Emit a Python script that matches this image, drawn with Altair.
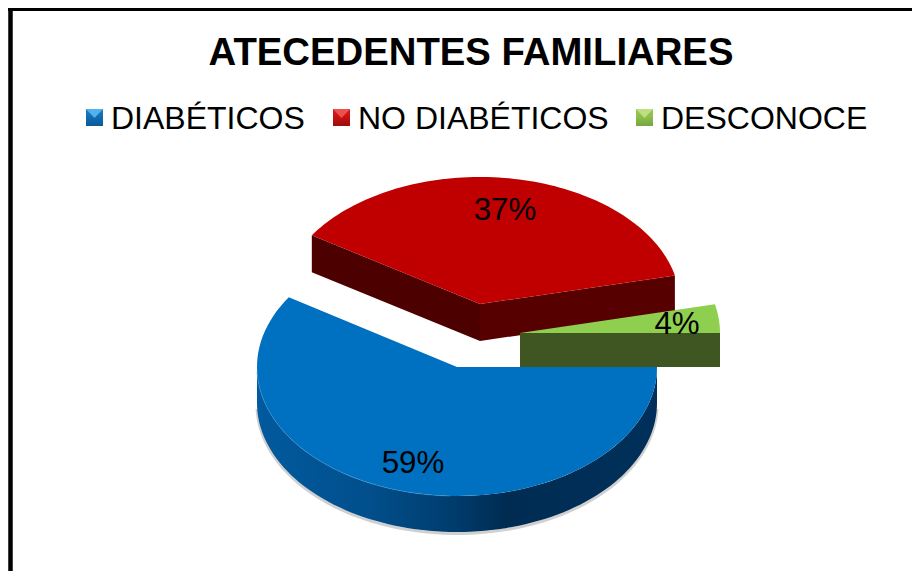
import math
import altair as alt
import pandas as pd

TITLE = "ATECEDENTES FAMILIARES"
CATEGORIES = ["DIABÉTICOS", "NO DIABÉTICOS", "DESCONOCE"]
PERCENTS = [59.1, 37.3, 3.6]
PERCENT_LABELS = ["59%", "37%", "4%"]

TOP_COLORS = ["#0070c0", "#c00000", "#8fcf50"]
WALL_COLORS = ["#003058", "#4d0000", "#3f5623"]

# page-pixel layout of the drawing
RX = 200
RYS = [129, 127, 128]
CENTERS = [(457, 367), (480, 304), (520, 333)]
DEPTHS = [36, 37, 34]
START_ANGLE = 90.0  # degrees clockwise from the top


def pt(k, ang, dy=0):
    r = math.radians(ang)
    c = CENTERS[k]
    return (c[0] + RX * math.sin(r), c[1] - RYS[k] * math.cos(r) + dy)


def arc(k, a0, a1, dy=0, n=90):
    return [pt(k, a0 + (a1 - a0) * i / n, dy) for i in range(n + 1)]


def frame(points, close=True):
    pts = list(points) + ([points[0]] if close else [])
    return pd.DataFrame({"x": [p[0] for p in pts], "y": [p[1] for p in pts], "i": range(len(pts))})


X = alt.X("x:Q", axis=None, scale=alt.Scale(domain=[8, 912], range=[0, 904]))
Y = alt.Y("y:Q", axis=None, scale=alt.Scale(domain=[8, 571], range=[0, 563]))


def poly(points, fill):
    return (
        alt.Chart(frame(points))
        .mark_line(fill=fill, stroke=None, strokeWidth=0, interpolate="linear")
        .encode(x=X, y=Y, order="i:Q")
    )


def curve(points, color, width, opacity):
    return (
        alt.Chart(frame(points, close=False))
        .mark_line(color=color, strokeWidth=width, opacity=opacity, interpolate="linear")
        .encode(x=X, y=Y, order="i:Q")
    )


angles = []
a = START_ANGLE
for p in PERCENTS:
    angles.append((a, a + p * 3.6))
    a += p * 3.6

layers = []

# red slice
k, (a0, a1), d = 1, angles[1], DEPTHS[1]
c = CENTERS[k]
layers.append(poly([pt(k, a0), c, (c[0], c[1] + d), pt(k, a0, d)], WALL_COLORS[1]))
layers.append(poly([c, pt(k, a1), pt(k, a1, d), (c[0], c[1] + d)], "#560000"))
layers.append(poly([c] + arc(k, a0, a1), TOP_COLORS[1]))

# green slice
k, (a0, a1), d = 2, angles[2], DEPTHS[2]
c = CENTERS[k]
layers.append(poly([c] + arc(k, a0, a1), TOP_COLORS[2]))
layers.append(poly([c, pt(k, a1), pt(k, a1, d), (c[0], c[1] + d)], WALL_COLORS[2]))

# blue slice
k, (a0, a1), d = 0, angles[0], DEPTHS[0]
c = CENTERS[k]
wall_gradient = alt.Gradient(
    gradient="linear", x1=0, x2=1, y1=0, y2=0,
    stops=[
        alt.GradientStop(offset=0, color="#015a9e"),
        alt.GradientStop(offset=0.28, color="#014f8c"),
        alt.GradientStop(offset=0.5, color="#003b6c"),
        alt.GradientStop(offset=0.62, color="#002c52"),
        alt.GradientStop(offset=1, color="#00305a"),
    ],
)
layers.append(curve(arc(k, 92, 268, d + 1.5), "#777777", 3, 0.35))
layers.append(poly(arc(k, 90, 270) + arc(k, 270, 90, d), wall_gradient))
layers.append(poly([c] + arc(k, a0, a1), TOP_COLORS[0]))
layers.append(curve(arc(k, 182, 268), "#3f93d3", 1, 0.6))

# frame
layers.append(
    alt.Chart(pd.DataFrame({"x": [10.5], "y": [8], "y2": [571]}))
    .mark_rule(color="black", strokeWidth=4.5)
    .encode(x=X, y=Y, y2="y2:Q")
)
layers.append(
    alt.Chart(pd.DataFrame({"x": [8], "x2": [912], "y": [9.3]}))
    .mark_rule(color="black", strokeWidth=3.4)
    .encode(x=X, x2="x2:Q", y=Y)
)


def text(df, **kw):
    return (
        alt.Chart(df)
        .mark_text(font="Liberation Sans", baseline="alphabetic", color="black", **kw)
        .encode(x=X, y=Y, text="t:N")
    )


layers.append(text(pd.DataFrame({"x": [471], "y": [65], "t": [TITLE]}), fontSize=38.3, fontWeight="bold", align="center"))
layers.append(text(pd.DataFrame({"x": [111, 358, 661], "y": [128.5, 128.5, 128.5], "t": CATEGORIES}), fontSize=32, align="left"))
layers.append(text(pd.DataFrame({"x": [413, 505, 677], "y": [473, 220, 334], "t": PERCENT_LABELS}), fontSize=31.3, align="center"))

# legend keys
KEY_STOPS = [("#1f7fc4", "#0f6db4", "#0b5a98", "#55b0ee"), ("#d42020", "#c81212", "#9c0c0c", "#ee5050"), ("#98c858", "#8cbf4c", "#78a63e", "#bce080")]
for kx, (s0, s1, s2, s3) in zip([94.5, 341.5, 644.5], KEY_STOPS):
    grad = alt.Gradient(
        gradient="linear", x1=0, x2=0, y1=0, y2=1,
        stops=[
            alt.GradientStop(offset=0, color=s0),
            alt.GradientStop(offset=0.45, color=s1),
            alt.GradientStop(offset=1, color=s2),
        ],
    )
    layers.append(
        alt.Chart(pd.DataFrame({"x": [kx], "y": [117.5]}))
        .mark_square(fill=grad, size=289, opacity=1, stroke=None)
        .encode(x=X, y=Y)
    )
    layers.append(poly([(kx - 8.5, 109), (kx + 8.5, 109), (kx, 118)], s3))

chart = (
    alt.layer(*layers)
    .properties(width=904, height=563, padding=0, autosize="none", background="white")
    .configure_view(stroke=None)
)
chart.save("out.html", embed_options={"renderer": "svg", "actions": False})
